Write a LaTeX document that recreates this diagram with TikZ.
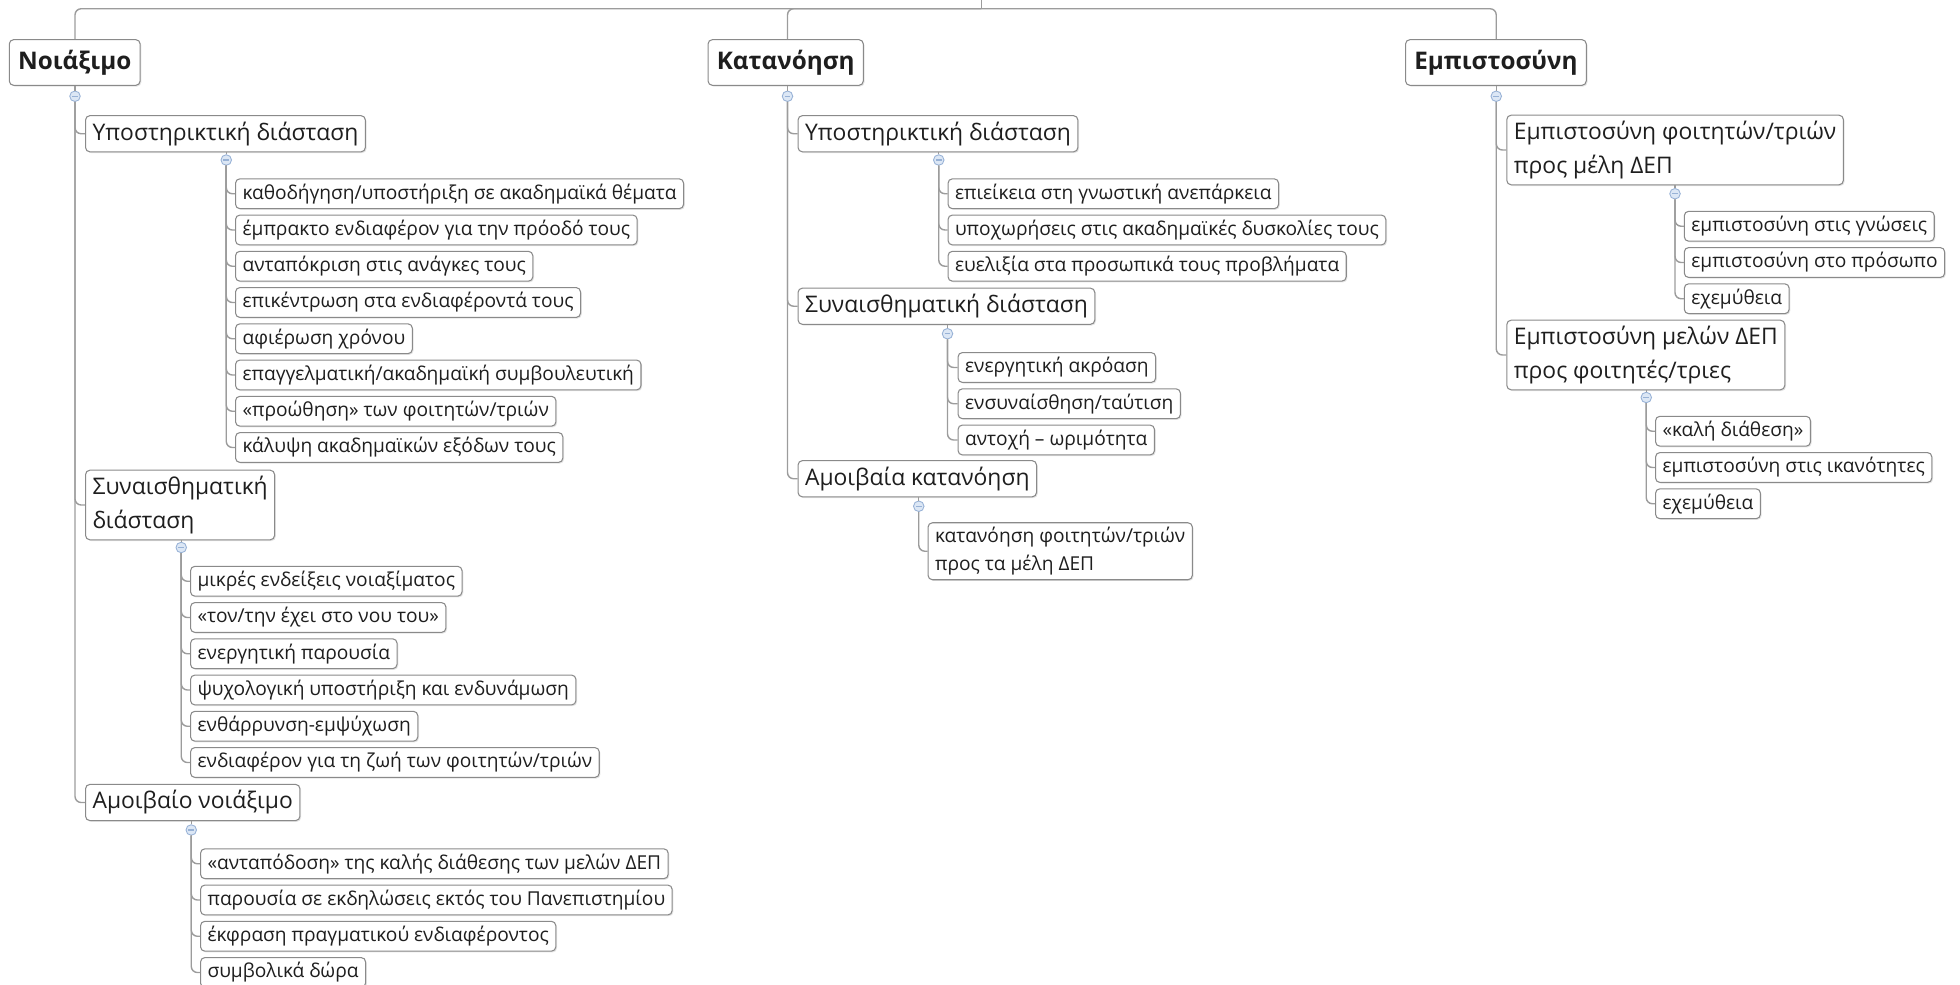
\documentclass[tikz,border=0pt]{standalone}
\usepackage{fontspec}
\setmainfont{Open Sans}
\usetikzlibrary{positioning}
\usetikzlibrary{shadows}

\definecolor{linegray}{HTML}{9C9C9C}
\definecolor{boxgray}{HTML}{8A8A8A}
\definecolor{toggleblue}{HTML}{DCE7F5}
\definecolor{toggleedge}{HTML}{98B2D6}
\definecolor{inkgray}{HTML}{1E1E1E}

\begin{document}
\begin{tikzpicture}[x=0.025cm,y=-0.025cm,
	box/.style={draw=boxgray,line width=0.6pt,rounded corners=2.5pt,fill=white,text=inkgray,
		anchor=west,inner xsep=4pt,inner ysep=2.5pt,align=left,
		drop shadow={shadow xshift=0.7pt,shadow yshift=-0.7pt,fill=black!30,opacity=0.35}},
	topic/.style={box,font=\fontsize{13.8}{16}\selectfont\bfseries,minimum height=26pt,inner xsep=5pt},
	sub/.style={box,font=\fontsize{13}{19}\selectfont,minimum height=20pt,inner ysep=3.5pt},
	leaf/.style={box,font=\fontsize{10.9}{16}\selectfont,minimum height=17pt},
	toggle/.style={circle,draw=toggleedge,line width=0.5pt,fill=toggleblue,minimum size=6pt,inner sep=0pt,
		path picture={\draw[toggleedge,line width=0.6pt]
			([xshift=-1.6pt]path picture bounding box.center) -- ([xshift=1.6pt]path picture bounding box.center);}},
	link/.style={draw=linegray,line width=0.8pt,rounded corners=3.5pt},
	elbow/.style={to path={|- (\tikztotarget)}},
	drop/.style={to path={-| (\tikztotarget)}}]

	\useasboundingbox (0,0) rectangle (1568,788);

	% main topics
	\node[topic] (care) at (7,50) {Νοιάξιμο};
	\node[topic] (undst) at (566,50) {Κατανόηση};
	\node[topic] (trust) at (1124,50) {Εμπιστοσύνη};
	\node[toggle] (caretg) at (60,77) {};
	\node[toggle] (undsttg) at (630,77) {};
	\node[toggle] (trusttg) at (1197,77) {};

	% Noiaximo
	\node[sub] (csup) at (68,107) {Υποστηρικτική διάσταση};
	\node[toggle] (csuptg) at (181,128) {};
	\node[leaf] (cs1) at (188,155) {καθοδήγηση/υποστήριξη σε ακαδημαϊκά θέματα};
	\node[leaf] (cs2) at (188,184) {έμπρακτο ενδιαφέρον για την πρόοδό τους};
	\node[leaf] (cs3) at (188,213) {ανταπόκριση στις ανάγκες τους};
	\node[leaf] (cs4) at (188,242) {επικέντρωση στα ενδιαφέροντά τους};
	\node[leaf] (cs5) at (188,271) {αφιέρωση χρόνου};
	\node[leaf] (cs6) at (188,300) {επαγγελματική/ακαδημαϊκή συμβουλευτική};
	\node[leaf] (cs7) at (188,329) {«προώθηση» των φοιτητών/τριών};
	\node[leaf] (cs8) at (188,358) {κάλυψη ακαδημαϊκών εξόδων τους};

	\node[sub] (cemo) at (68,404) {Συναισθηματική\\διάσταση};
	\node[toggle] (cemotg) at (145,438) {};
	\node[leaf] (ce1) at (152,465) {μικρές ενδείξεις νοιαξίματος};
	\node[leaf] (ce2) at (152,494) {«τον/την έχει στο νου του»};
	\node[leaf] (ce3) at (152,523) {ενεργητική παρουσία};
	\node[leaf] (ce4) at (152,552) {ψυχολογική υποστήριξη και ενδυνάμωση};
	\node[leaf] (ce5) at (152,581) {ενθάρρυνση-εμψύχωση};
	\node[leaf] (ce6) at (152,610) {ενδιαφέρον για τη ζωή των φοιτητών/τριών};

	\node[sub] (cmut) at (68,642) {Αμοιβαίο νοιάξιμο};
	\node[toggle] (cmuttg) at (153,664) {};
	\node[leaf] (cm1) at (160,691) {«ανταπόδοση» της καλής διάθεσης των μελών ΔΕΠ};
	\node[leaf] (cm2) at (160,720) {παρουσία σε εκδηλώσεις εκτός του Πανεπιστημίου};
	\node[leaf] (cm3) at (160,749) {έκφραση πραγματικού ενδιαφέροντος};
	\node[leaf] (cm4) at (160,778) {συμβολικά δώρα};

	% Katanoisi
	\node[sub] (usup) at (638,107) {Υποστηρικτική διάσταση};
	\node[toggle] (usuptg) at (751,128) {};
	\node[leaf] (us1) at (758,155) {επιείκεια στη γνωστική ανεπάρκεια};
	\node[leaf] (us2) at (758,184) {υποχωρήσεις στις ακαδημαϊκές δυσκολίες τους};
	\node[leaf] (us3) at (758,213) {ευελιξία στα προσωπικά τους προβλήματα};

	\node[sub] (uemo) at (638,245) {Συναισθηματική διάσταση};
	\node[toggle] (uemotg) at (758,267) {};
	\node[leaf] (ue1) at (766,294) {ενεργητική ακρόαση};
	\node[leaf] (ue2) at (766,323) {ενσυναίσθηση/ταύτιση};
	\node[leaf] (ue3) at (766,352) {αντοχή – ωριμότητα};

	\node[sub] (umut) at (638,383) {Αμοιβαία κατανόηση};
	\node[toggle] (umuttg) at (735,405) {};
	\node[leaf] (um1) at (742,441) {κατανόηση φοιτητών/τριών\\προς τα μέλη ΔΕΠ};

	% Empistosyni
	\node[sub] (tstu) at (1205,120) {Εμπιστοσύνη φοιτητών/τριών\\προς μέλη ΔΕΠ};
	\node[toggle] (tstutg) at (1340,155) {};
	\node[leaf] (ts1) at (1347,181) {εμπιστοσύνη στις γνώσεις};
	\node[leaf] (ts2) at (1347,210) {εμπιστοσύνη στο πρόσωπο};
	\node[leaf] (ts3) at (1347,239) {εχεμύθεια};

	\node[sub] (tfac) at (1205,284) {Εμπιστοσύνη μελών ΔΕΠ\\προς φοιτητές/τριες};
	\node[toggle] (tfactg) at (1317,318) {};
	\node[leaf] (tf1) at (1324,345) {«καλή διάθεση»};
	\node[leaf] (tf2) at (1324,374) {εμπιστοσύνη στις ικανότητες};
	\node[leaf] (tf3) at (1324,403) {εχεμύθεια};

	% connectors
	\coordinate (top) at (785,0);
	\coordinate (hub) at (785,7);
	\path[link] (top) edge (hub);
	\path[link] (hub) edge[drop] (caretg |- care.north)
		edge[drop] (undsttg |- undst.north)
		edge[drop] (trusttg |- trust.north);

	\path[link] (caretg |- care.south) edge (caretg.north)
		(undsttg |- undst.south) edge (undsttg.north)
		(trusttg |- trust.south) edge (trusttg.north)
		(csuptg |- csup.south) edge (csuptg.north)
		(cemotg |- cemo.south) edge (cemotg.north)
		(cmuttg |- cmut.south) edge (cmuttg.north)
		(usuptg |- usup.south) edge (usuptg.north)
		(uemotg |- uemo.south) edge (uemotg.north)
		(umuttg |- umut.south) edge (umuttg.north)
		(tstutg |- tstu.south) edge (tstutg.north)
		(tfactg |- tfac.south) edge (tfactg.north);

	\path[link] (caretg.south) edge[elbow] (csup.west) edge[elbow] (cemo.west) edge[elbow] (cmut.west);
	\path[link] (undsttg.south) edge[elbow] (usup.west) edge[elbow] (uemo.west) edge[elbow] (umut.west);
	\path[link] (trusttg.south) edge[elbow] (tstu.west) edge[elbow] (tfac.west);

	\path[link] (csuptg.south) edge[elbow] (cs1.west) edge[elbow] (cs2.west) edge[elbow] (cs3.west)
		edge[elbow] (cs4.west) edge[elbow] (cs5.west) edge[elbow] (cs6.west)
		edge[elbow] (cs7.west) edge[elbow] (cs8.west);
	\path[link] (cemotg.south) edge[elbow] (ce1.west) edge[elbow] (ce2.west) edge[elbow] (ce3.west)
		edge[elbow] (ce4.west) edge[elbow] (ce5.west) edge[elbow] (ce6.west);
	\path[link] (cmuttg.south) edge[elbow] (cm1.west) edge[elbow] (cm2.west)
		edge[elbow] (cm3.west) edge[elbow] (cm4.west);
	\path[link] (usuptg.south) edge[elbow] (us1.west) edge[elbow] (us2.west) edge[elbow] (us3.west);
	\path[link] (uemotg.south) edge[elbow] (ue1.west) edge[elbow] (ue2.west) edge[elbow] (ue3.west);
	\path[link] (umuttg.south) edge[elbow] (um1.west);
	\path[link] (tstutg.south) edge[elbow] (ts1.west) edge[elbow] (ts2.west) edge[elbow] (ts3.west);
	\path[link] (tfactg.south) edge[elbow] (tf1.west) edge[elbow] (tf2.west) edge[elbow] (tf3.west);
\end{tikzpicture}
\end{document}
